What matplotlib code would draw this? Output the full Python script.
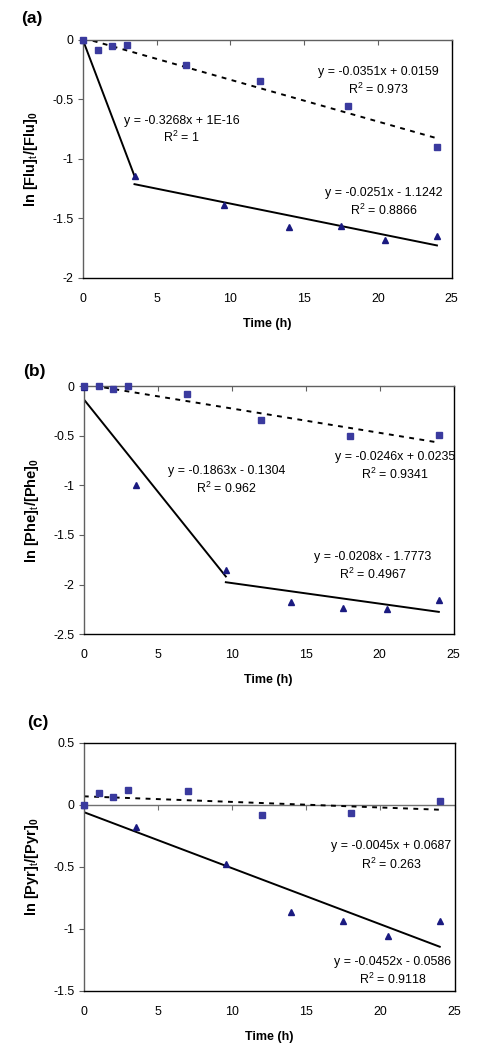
import matplotlib.pyplot as plt
import numpy as np
from matplotlib.ticker import FuncFormatter

plt.rcParams['font.family'] = ['Liberation Sans', 'DejaVu Sans']
plt.rcParams['mathtext.fontset'] = 'custom'
plt.rcParams['mathtext.rm'] = 'Liberation Sans'
plt.rcParams['mathtext.bf'] = 'Liberation Sans:bold'

# sampling times (h)
sq_x = [0, 1, 2, 3, 7, 12, 18, 24]
tri_x = [0, 3.5, 9.6, 14, 17.5, 20.5, 24]

# (a) fluoranthene
flu_sq = [0, -0.081, -0.048, -0.039, -0.213, -0.347, -0.552, -0.899]
flu_tri = [0, -1.146, -1.389, -1.571, -1.56, -1.678, -1.647]
# (b) phenanthrene
phe_sq = [0, 0.003, -0.027, 0.003, -0.081, -0.336, -0.497, -0.487]
phe_tri = [-0.007, -0.991, -1.851, -2.181, -2.235, -2.245, -2.161]
# (c) pyrene
pyr_sq = [0, 0.097, 0.067, 0.118, 0.113, -0.078, -0.064, 0.030]
pyr_tri = [0, -0.177, -0.478, -0.864, -0.940, -1.060, -0.940]

# trendline coefficients as printed on the chart (slope, intercept, R2, equation)
flu_sq_fit = (-0.0351, 0.0159, '0.973', 'y = -0.0351x + 0.0159')
flu_tri_fits = [(-0.3268, 0.0, '1', 'y = -0.3268x + 1E-16'),
                (-0.0251, -1.1242, '0.8866', 'y = -0.0251x - 1.1242')]
phe_sq_fit = (-0.0246, 0.0235, '0.9341', 'y = -0.0246x + 0.0235')
phe_tri_fits = [(-0.1863, -0.1304, '0.962', 'y = -0.1863x - 0.1304'),
                (-0.0208, -1.7773, '0.4967', 'y = -0.0208x - 1.7773')]
pyr_sq_fit = (-0.0045, 0.0687, '0.263', 'y = -0.0045x + 0.0687')
pyr_tri_fits = [(-0.0452, -0.0586, '0.9118', 'y = -0.0452x - 0.0586')]

# which triangle points each solid trendline spans (index ranges into tri_x)
flu_spans = [(0, 1), (1, 6)]
phe_spans = [(0, 2), (2, 6)]
pyr_spans = [(0, 6)]

panels = [
    dict(tag='(a)', name='Flu', sq=flu_sq, tri=flu_tri, sqfit=flu_sq_fit,
         trifits=flu_tri_fits, spans=flu_spans, ylim=(-2, 0),
         pos=[0.173, 0.735, 0.770, 0.227], tagxy=(0.044, 0.982),
         sq_lab=(20.05, -0.269, -0.417),
         tri_lab=[(6.7, -0.681, -0.818), (20.4, -1.289, -1.434)]),
    dict(tag='(b)', name='Phe', sq=phe_sq, tri=phe_tri, sqfit=phe_sq_fit,
         trifits=phe_tri_fits, spans=phe_spans, ylim=(-2.5, 0),
         pos=[0.175, 0.3956, 0.772, 0.236], tagxy=(0.048, 0.646),
         sq_lab=(21.05, -0.712, -0.887),
         tri_lab=[(9.63, -0.853, -1.025), (19.55, -1.72, -1.895)]),
    dict(tag='(c)', name='Pyr', sq=pyr_sq, tri=pyr_tri, sqfit=pyr_sq_fit,
         trifits=pyr_tri_fits, spans=pyr_spans, ylim=(-1.5, 0.5),
         pos=[0.175, 0.0553, 0.774, 0.2366], tagxy=(0.056, 0.311),
         sq_lab=(20.75, -0.333, -0.478),
         tri_lab=[(20.8, -1.264, -1.407)]),
]

fig = plt.figure(figsize=(4.79, 10.49), dpi=100)

fs = 8.9  # annotation / tick font size

for p in panels:
    ax = fig.add_axes(p['pos'])
    fig.text(p['tagxy'][0], p['tagxy'][1], p['tag'], fontsize=12.5,
             fontweight='bold', ha='left', va='center')

    # dashed trendline through the squares
    m, b, r2, eq = p['sqfit']
    xs = np.array([sq_x[0], sq_x[-1]])
    ax.plot(xs, m * xs + b, color='black', lw=1.4, ls=(0, (2.5, 2.8)), zorder=2)
    lx, ly1, ly2 = p['sq_lab']
    ax.text(lx, ly1, eq, fontsize=fs, ha='center', va='center')
    ax.text(lx, ly2, 'R$^2$ = ' + r2, fontsize=fs, ha='center', va='center')

    # solid trendlines through the triangles
    for (m, b, r2, eq), (i0, i1), (lx, ly1, ly2) in zip(p['trifits'], p['spans'], p['tri_lab']):
        xs = np.array([tri_x[i0], tri_x[i1]])
        ax.plot(xs, m * xs + b, color='black', lw=1.4, zorder=2)
        ax.text(lx, ly1, eq, fontsize=fs, ha='center', va='center')
        ax.text(lx, ly2, 'R$^2$ = ' + r2, fontsize=fs, ha='center', va='center')

    ax.plot(tri_x, p['tri'], '^', color='#1a1a80', ms=4.6, mec='#1a1a80',
            clip_on=False, zorder=3)
    ax.plot(sq_x, p['sq'], 's', color='#3a3a9e', ms=3.8, mec='#3a3a9e',
            clip_on=False, zorder=3)

    ax.set_xlim(0, 25)
    ax.set_ylim(*p['ylim'])
    ax.set_xticks([0, 5, 10, 15, 20, 25])
    ax.set_yticks(np.arange(p['ylim'][0], p['ylim'][1] + 0.01, 0.5))
    fmt = FuncFormatter(lambda v, pos: f'{v:g}')
    ax.xaxis.set_major_formatter(fmt)
    ax.yaxis.set_major_formatter(fmt)

    for s in ax.spines.values():
        s.set_color('black')
        s.set_linewidth(1.0)
    ax.spines['left'].set_color('#606060')

    ax.tick_params(axis='y', direction='out', length=3.5, width=0.8,
                   color='#606060', labelsize=fs, pad=3)
    if p['ylim'][1] == 0:
        # zero line is the top of the box
        ax.spines['top'].set_color('#606060')
        ax.tick_params(axis='x', top=True, bottom=False, direction='in',
                       length=3.5, width=0.8, color='#606060',
                       labelsize=fs, pad=11)
    else:
        ax.axhline(0, color='#707070', lw=1.0, zorder=1)
        ax.tick_params(axis='x', bottom=False, length=0, labelsize=fs, pad=11)
        sec = ax.secondary_xaxis(0, transform=ax.transData)
        sec.set_xticks([0, 5, 10, 15, 20, 25])
        sec.tick_params(axis='x', direction='out', length=3.5, width=0.8,
                        color='#707070', labelbottom=False)
        sec.spines['bottom'].set_visible(False)
        sec.spines['top'].set_visible(False)

    ax.set_xlabel('Time (h)', fontsize=9, fontweight='bold', labelpad=9)
    ax.set_ylabel('ln [%s]$_\\mathrm{t}$/[%s]$_\\mathbf{0}$' % (p['name'], p['name']),
                  fontsize=10.5, fontweight='bold')
    ax.yaxis.set_label_coords(-0.115, 0.5)

fig.savefig('out.png', dpi=100)
